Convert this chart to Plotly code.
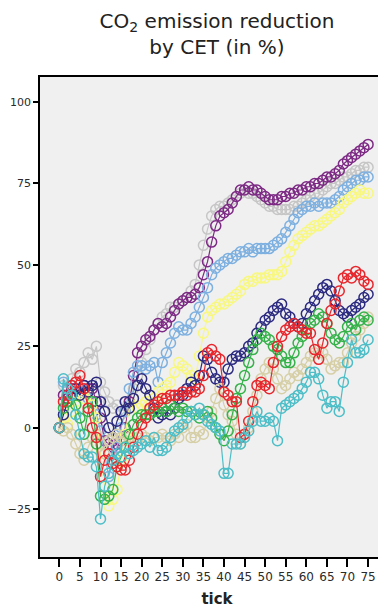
import plotly.graph_objects as go

ticks = list(range(76))

purple = [0, 10, 9, 12, 10, 11, 13, 12, 12, 8, 3, -4, -5, -6, -5, -4, 0, 8, 16, 23,
          25, 27, 28, 30, 32, 31, 32, 34, 36, 38, 39, 40, 40, 41, 43, 47, 51, 57, 62, 65,
          66, 67, 69, 71, 73, 73, 74, 73, 73, 72, 71, 70, 70, 70, 71, 71, 72, 72, 73, 73,
          74, 74, 75, 75, 76, 77, 77, 78, 79, 81, 82, 83, 84, 85, 86, 87]
gray = [0, 13, 12, 15, 18, 17, 20, 23, 21, 25, 14, 11, 8, 6, 7, 4, 5, 8, 12, 16,
        20, 24, 27, 30, 32, 34, 35, 37, 37, 38, 39, 40, 42, 44, 50, 56, 61, 65, 67, 68,
        68, 69, 70, 71, 72, 73, 72, 72, 71, 70, 69, 68, 68, 67, 67, 67, 67, 68, 68, 69,
        70, 71, 72, 72, 73, 74, 75, 75, 76, 77, 77, 78, 79, 79, 80, 80]
lightblue = [0, 14, 12, 13, 10, 12, 11, 9, 7, 4, -1, -8, -15, -10, -6, 0, 5, 12, 17, 19,
             19, 18, 19, 20, 14, 20, 23, 26, 29, 31, 30, 30, 32, 34, 37, 40, 43, 47, 49, 50,
             51, 52, 52, 53, 54, 54, 55, 54, 55, 55, 55, 55, 56, 57, 58, 60, 62, 64, 66, 67,
             68, 68, 69, 68, 69, 69, 69, 70, 71, 73, 74, 75, 76, 76, 77, 77]
yellow = [0, 3, 1, 5, 8, 10, 9, 11, 7, 3, -8, -18, -24, -22, -19, -10, -2, 6, 9, 6,
          7, 8, 10, 9, 11, 12, 13, 14, 17, 20, 19, 18, 16, 15, 22, 29, 34, 36, 37, 38,
          38, 39, 40, 41, 42, 44, 45, 45, 46, 46, 46, 47, 47, 47, 48, 51, 54, 56, 58, 59,
          60, 61, 62, 62, 63, 64, 65, 66, 67, 69, 70, 71, 72, 73, 72, 72]
navy = [0, 4, 8, 10, 12, 10, 13, 11, 13, 14, 8, 5, 0, -3, 2, 5, 8, 6, 9, 13,
        15, 12, 10, 6, 3, 4, 5, 4, 6, 9, 10, 12, 14, 13, 16, 22, 21, 17, 15, 14,
        14, 18, 21, 22, 22, 23, 25, 26, 29, 31, 33, 34, 36, 37, 38, 35, 34, 32, 31, 32,
        35, 37, 39, 41, 43, 44, 42, 39, 36, 35, 34, 36, 37, 38, 40, 41]
red = [0, 8, 10, 13, 14, 16, 12, 6, 0, -3, -15, -10, -8, -11, -12, -13, -13, -10, -6, -2,
       1, 3, 6, 7, 8, 9, 9, 10, 10, 10, 11, 10, 11, 11, 12, 16, 23, 24, 22, 21,
       11, 10, 8, 8, -3, -2, 2, 8, 13, 14, 13, 12, 20, 25, 28, 30, 31, 32, 31, 30,
       29, 29, 24, 21, 26, 32, 36, 38, 42, 46, 47, 46, 48, 47, 45, 44]
green = [0, 6, 8, 10, 7, 3, -2, 5, 8, -5, -21, -22, -21, -19, -12, -9, -6, -2, 1, 3,
         4, 4, 4, 5, 5, 6, 5, 7, 6, 5, 6, 5, 5, 4, 3, 4, 5, 3, 0, -2,
         -4, -1, 4, 9, 12, 16, 20, 24, 27, 29, 28, 27, 25, 24, 22, 20, 20, 23, 26, 28,
         30, 32, 33, 35, 34, 32, 29, 27, 26, 28, 31, 32, 30, 33, 34, 33]
tan = [0, -1, 0, -2, -5, -8, -10, -6, -3, -2, -5, -8, -4, -3, -2, -3, -4, -3, -4, -3,
       -2, -3, -4, -3, -3, -2, -3, -4, -2, -3, 0, 1, -3, -3, -1, -2, 3, 5, 9, 12,
       7, 4, 2, -2, -5, -2, 0, 5, 10, 15, 18, 20, 18, 15, 12, 13, 15, 17, 16, 18,
       20, 22, 23, 24, 23, 21, 18, 19, 20, 20, 23, 26, 28, 30, 32, 34]
cyan = [0, 15, 12, 10, 4, -2, -8, -9, -9, -12, -28, -18, -14, -10, -8, -9, -6, -8, -7, -6,
        -5, -4, -6, -3, -7, -7, -6, -3, -1, 0, 1, 3, 5, 4, 6, 4, 2, 1, 0, -1,
        -14, -14, -5, -5, -5, -3, -1, 2, 5, 2, 2, 3, 2, -4, 6, 7, 8, 9, 10, 12,
        14, 17, 17, 15, 10, 6, 8, 8, 5, 14, 20, 27, 23, 23, 24, 27]

series = [
    ("gray", gray, "#C6C6C6"),
    ("purple", purple, "#7D2A85"),
    ("lightblue", lightblue, "#7DB0E0"),
    ("yellow", yellow, "#F8F880"),
    ("navy", navy, "#2B2A80"),
    ("tan", tan, "#D6CFA6"),
    ("green", green, "#35B24A"),
    ("red", red, "#E8272D"),
    ("cyan", cyan, "#4DBEC7"),
]

fig = go.Figure()
for name, vals, col in series:
    fig.add_trace(go.Scatter(
        x=ticks, y=vals, mode="lines+markers", name=name,
        line=dict(color=col, width=1.2),
        marker=dict(symbol="circle-open", size=10, color=col, line=dict(width=1.5, color=col)),
        showlegend=False,
    ))

fig.update_layout(
    width=386, height=610,
    margin=dict(l=32, r=0, t=69, b=61, autoexpand=False),
    paper_bgcolor="white",
    plot_bgcolor="#F0F0F0",
    font=dict(family="DejaVu Sans", size=12, color="#2a2a2a"),
    title=dict(
        text="CO<sub>2</sub> emission reduction<br>by CET (in %)",
        x=0.5, xref="paper", xanchor="center",
        y=0.968, yref="container", yanchor="top",
        font=dict(family="DejaVu Sans", size=20, color="#222222"),
    ),
)
fig.update_xaxes(
    range=[-4.7, 81.3], tickmode="array", tickvals=list(range(0, 80, 5)),
    automargin=False,
    showgrid=False, zeroline=False, showline=True, linecolor="black", linewidth=1.5,
    mirror=True, ticks="outside", ticklen=8, tickcolor="black", tickwidth=1.5,
    tickfont=dict(size=12),
    title=dict(text="<b>tick</b>", font=dict(size=15, color="#222222"), standoff=10),
)
fig.update_yaxes(
    range=[-39.7, 107.7], tickmode="array", tickvals=[-25, 0, 25, 50, 75, 100],
    automargin=False,
    showgrid=False, zeroline=False, showline=True, linecolor="black", linewidth=1.5,
    mirror=True, ticks="outside", ticklen=5, tickcolor="black", tickwidth=1.5,
    tickfont=dict(size=11),
)

fig.write_html("out.html")
